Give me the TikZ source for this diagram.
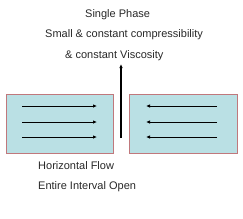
\documentclass[tikz,border=0pt]{standalone}
\usepackage{fontspec}
\setmainfont{Liberation Sans}
\usetikzlibrary{arrows.meta}
\definecolor{boxfill}{RGB}{186,224,228}
\definecolor{boxline}{RGB}{192,120,124}
\definecolor{txt}{RGB}{40,40,40}
\begin{document}
\begin{tikzpicture}[x=1pt,y=-1pt,
  lbl/.style={font=\fontsize{11}{13}\selectfont, text=txt, inner sep=0pt, anchor=west},
  res/.style={draw=boxline, fill=boxfill, line width=0.6pt, inner sep=0pt},
  flow/.style={line width=0.9pt, -{Latex[length=4pt,width=3.5pt]}}]
\useasboundingbox (0,0) rectangle (243,218);
\node[res, minimum width=107pt, minimum height=59pt, anchor=north west] (L) at (6,94) {};
\node[res, minimum width=108pt, minimum height=59pt, anchor=north west] (R) at (129,94) {};
\foreach \y [count=\i] in {106,122,137}{
  \coordinate (la\i) at (22,\y); \coordinate (lb\i) at (97,\y);
  \coordinate (ra\i) at (217,\y); \coordinate (rb\i) at (146,\y);
  \draw[flow] (la\i) -- (lb\i);
  \draw[flow] (ra\i) -- (rb\i);
}
\coordinate (vb) at (121,138);
\coordinate (vt) at (121,64);
\draw[flow, line width=1.3pt] (vb) -- (vt);
\node[lbl] (t1) at (85,15) {Single Phase};
\node[lbl] (t2) at (45,35) {Small \& constant compressibility};
\node[lbl] (t3) at (65,56) {\& constant Viscosity};
\node[lbl] (t4) at (38,166) {Horizontal Flow};
\node[lbl] (t5) at (38,187) {Entire Interval Open};
\end{tikzpicture}
\end{document}
